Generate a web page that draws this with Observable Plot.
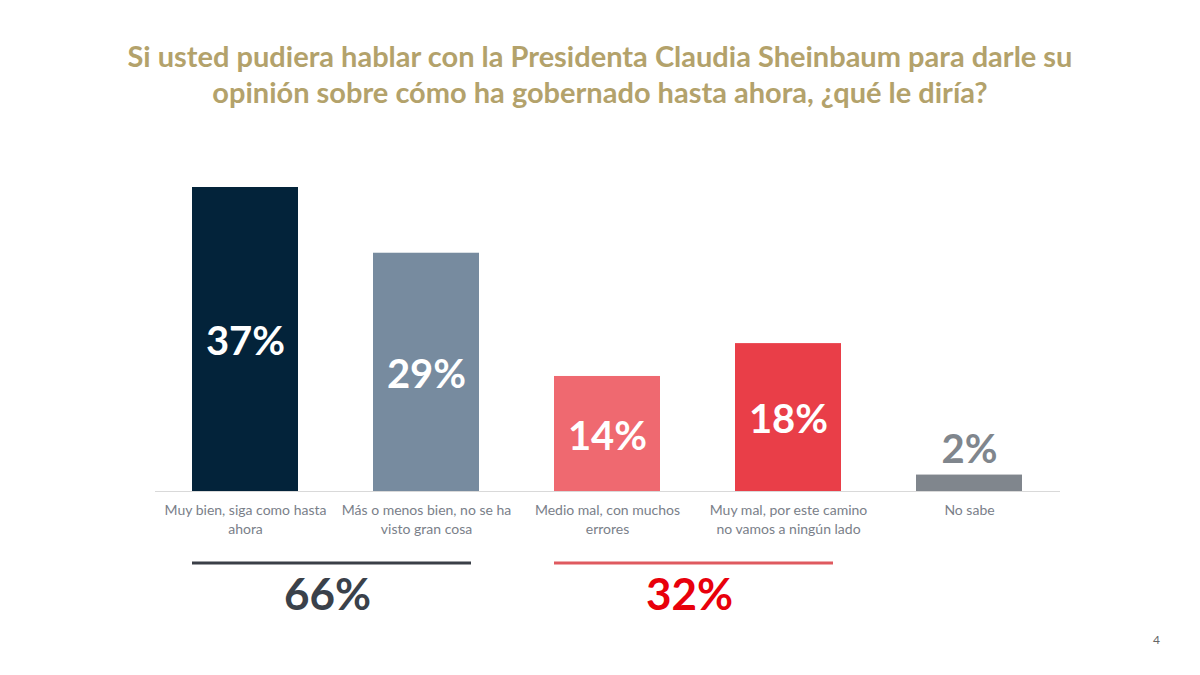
<!DOCTYPE html>
<html>
<head>
<meta charset="utf-8">
<script src="https://cdn.jsdelivr.net/npm/d3@7"></script>
<script src="https://cdn.jsdelivr.net/npm/@observablehq/plot@0.6"></script>
<style>
  html, body { margin: 0; padding: 0; background: #ffffff; }
  body { width: 1200px; height: 675px; position: relative; overflow: hidden; font-family: Lato, "Open Sans", sans-serif; }
  #title { height: 140px; box-sizing: border-box; padding-top: 38px; text-align: center; color: #b3a26b; font-weight: 700; font-size: 29px; line-height: 36px; }
  #page { position: absolute; right: 40px; top: 632px; font-size: 12px; color: #666666; }
</style>
</head>
<body>
<div id="title">Si usted pudiera hablar con la Presidenta Claudia Sheinbaum para darle su<br>opinión sobre cómo ha gobernado hasta ahora, ¿qué le diría?</div>
<div id="chart"></div>
<div id="page">4</div>
<script>
const categories = [
  "Muy bien, siga como hasta ahora",
  "Más o menos bien, no se ha visto gran cosa",
  "Medio mal, con muchos errores",
  "Muy mal, por este camino no vamos a ningún lado",
  "No sabe"
];
const tickLabels = [
  "Muy bien, siga como hasta\nahora",
  "Más o menos bien, no se ha\nvisto gran cosa",
  "Medio mal, con muchos\nerrores",
  "Muy mal, por este camino\nno vamos a ningún lado",
  "No sabe"
];
const values = [37, 29, 14, 18, 2];
const barColors = ["#03233a", "#778b9f", "#ef6970", "#e93e48", "#80868d"];
const groupLabels = ["66%", "32%"];
const groupFrom = ["Muy bien, siga como hasta ahora", "Medio mal, con muchos errores"];
const groupTo = ["Más o menos bien, no se ha visto gran cosa", "Muy mal, por este camino no vamos a ningún lado"];
const groupColors = ["#3a414a", "#e8000b"];
const groupLineColors = ["#3a3f47", "#df5a5f"];

const data = categories.map((c, i) => ({cat: c, v: values[i], color: barColors[i], label: values[i] + "%"}));
const labelMap = new Map(categories.map((c, i) => [c, tickLabels[i]]));
const inside = data.filter(d => d.v >= 5);
const outside = data.filter(d => d.v < 5);

const plot = Plot.plot({
  width: 1200,
  height: 535,
  marginLeft: 155,
  marginRight: 140,
  marginTop: 47,
  marginBottom: 184,
  style: {fontFamily: "Lato, 'Open Sans', sans-serif", background: "transparent"},
  x: {domain: categories, paddingInner: 0.413, paddingOuter: 0.2065, label: null},
  y: {domain: [0, 37], axis: null},
  marks: [
    Plot.barY(data, {x: "cat", y: "v", fill: "color"}),
    Plot.ruleY([0], {stroke: "#d9d9d9", strokeWidth: 1}),
    Plot.axisX({tickSize: 0, tickPadding: 11, tickFormat: d => labelMap.get(d), fontSize: 14, fill: "#7a8089", lineHeight: 1.3, textAnchor: "middle"}),
    Plot.text(inside, {x: "cat", y: d => d.v / 2, text: "label", fill: "#ffffff", fontSize: 40, fontWeight: 700, dy: 3}),
    Plot.text(outside, {x: "cat", y: "v", text: "label", fill: "#80868d", fontSize: 40, fontWeight: 700, dy: -25})
  ]
});

document.getElementById("chart").appendChild(plot);

// group summaries positioned with the plot's own x scale
const xs = plot.scale("x");
const bw = xs.bandwidth;
const svg = d3.select(plot);
const baseY = 351;
groupLabels.forEach((lab, i) => {
  const x1 = xs.apply(groupFrom[i]);
  const x2 = xs.apply(groupTo[i]) + bw - 8;
  svg.append("line")
    .attr("x1", x1).attr("x2", x2)
    .attr("y1", baseY + 72).attr("y2", baseY + 72)
    .attr("stroke", groupLineColors[i]).attr("stroke-width", 3);
  svg.append("text")
    .attr("x", (x1 + x2) / 2 - 4).attr("y", baseY + 108)
    .attr("text-anchor", "middle").attr("dominant-baseline", "middle")
    .attr("font-family", "Lato, 'Open Sans', sans-serif")
    .attr("font-weight", 700).attr("font-size", 44)
    .attr("fill", groupColors[i])
    .text(lab);
});
</script>
</body>
</html>
